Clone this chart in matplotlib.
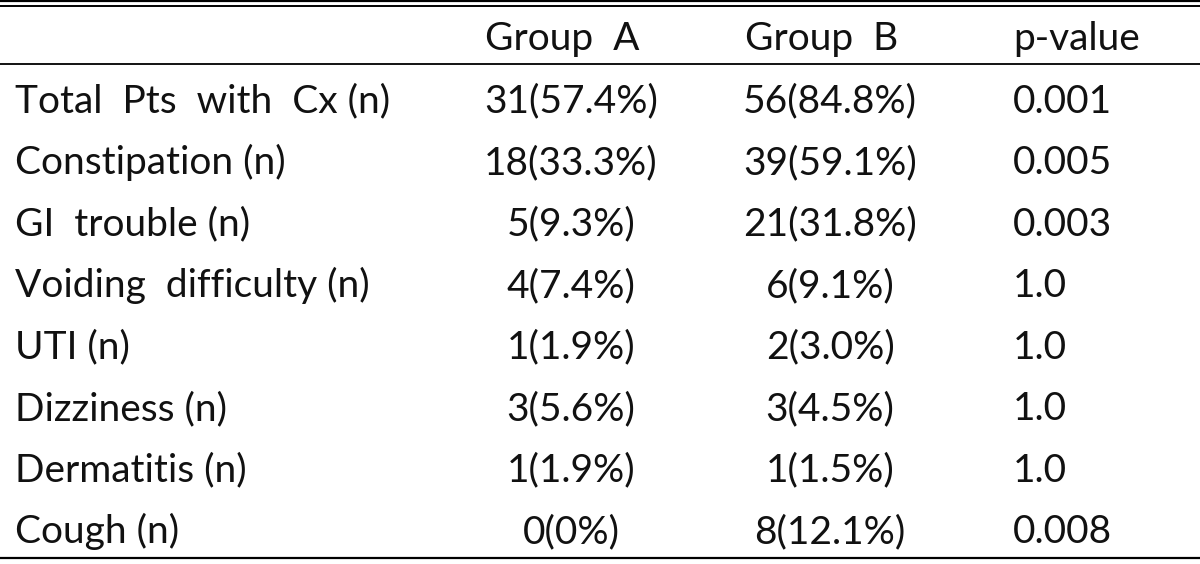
import matplotlib.pyplot as plt

# table contents
header = ["", "Group  A", "Group  B", "p-value"]
rows = ["Total  Pts  with  Cx (n)", "Constipation (n)", "GI  trouble (n)",
        "Voiding  difficulty (n)", "UTI (n)", "Dizziness (n)",
        "Dermatitis (n)", "Cough (n)"]
group_a = ["31(57.4%)", "18(33.3%)", "5(9.3%)", "4(7.4%)", "1(1.9%)",
           "3(5.6%)", "1(1.9%)", "0(0%)"]
group_b = ["56(84.8%)", "39(59.1%)", "21(31.8%)", "6(9.1%)", "2(3.0%)",
           "3(4.5%)", "1(1.5%)", "8(12.1%)"]
p_values = ["0.001", "0.005", "0.003", "1.0", "1.0", "1.0", "1.0", "0.008"]

plt.rcParams['font.family'] = ['Lato', 'DejaVu Sans']

fig = plt.figure(figsize=(12, 5.64), dpi=100)
ax = fig.add_axes([0, 0, 1, 1])
ax.set_xlim(0, 1200)
ax.set_ylim(564, 0)
ax.axis("off")

FS = 28
col_a, col_b, col_p = 571, 830, 1013
y_head = 50           # header baseline
y0, dy = 112.7, 61.5  # row baselines

# rules: double line on top, header rule, bottom rule
ax.axhline(1.2, color="black", lw=1.6)
ax.axhline(6.0, color="black", lw=1.4)
ax.axhline(63.5, color="black", lw=1.3)
ax.axhline(557.5, color="black", lw=1.6)

txt = dict(va="baseline", fontsize=FS, color="#111111")
ax.text(562, y_head, header[1], ha="center", **txt)
ax.text(col_b - 8, y_head, header[2], ha="center", **txt)
ax.text(col_p, y_head, header[3], ha="left", **txt)

for i, name in enumerate(rows):
    y = y0 + i * dy
    ax.text(15, y, name, ha="left", **txt)
    ax.text(col_a, y, group_a[i], ha="center", **txt)
    ax.text(col_b, y, group_b[i], ha="center", **txt)
    ax.text(col_p, y, p_values[i], ha="left", **txt)

fig.savefig("out.png", dpi=100)
